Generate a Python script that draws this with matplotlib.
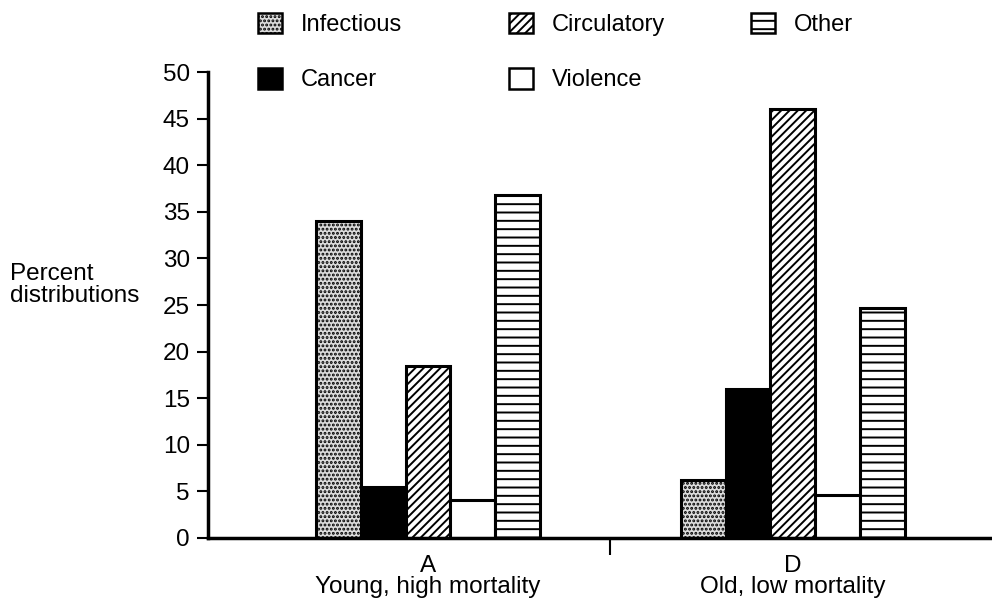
import matplotlib.pyplot as plt
from matplotlib.patches import Patch
import numpy as np

# Data
groups = ['A\nYoung, high mortality', 'D\nOld, low mortality']
causes = ['Infectious', 'Cancer', 'Circulatory', 'Violence', 'Other']
infectious = [34, 6.2]
cancer = [5.5, 16]
circulatory = [18.5, 46]
violence = [4.1, 4.6]
other = [36.8, 24.7]

series = [infectious, cancer, circulatory, violence, other]
faces = ['#dcdcdc', 'black', 'white', 'white', 'white']
hatches = ['....', None, '////', None, '--']

plt.rcParams['font.family'] = ['Liberation Sans', 'DejaVu Sans']
plt.rcParams['hatch.linewidth'] = 1.4

W, H = 992, 614
fig = plt.figure(figsize=(W / 100, H / 100), dpi=100)
ax = fig.add_axes([0.2097, 0.1238, 0.79, 0.7589])

x = np.arange(len(groups))
w = 0.123
for i, (vals, fc, h, name) in enumerate(zip(series, faces, hatches, causes)):
    ax.bar(x + (i - 2) * w, vals, width=w, color=fc, edgecolor='black',
           hatch=h, linewidth=2.2, label=name)

ax.set_xlim(-0.603, 1.545)
ax.set_ylim(0, 50)
ax.set_yticks(range(0, 51, 5))
ax.tick_params(axis='y', direction='out', length=8, width=1.5, labelsize=17.5, pad=5)

ax.set_xticks(x, groups)
ax.tick_params(axis='x', length=0, labelsize=17.5, pad=12)
for lbl in ax.get_xticklabels():
    lbl.set_linespacing(0.95)
ax.set_xticks([0.5], minor=True)
ax.tick_params(axis='x', which='minor', direction='out', length=12, width=1.5)

for s in ['top', 'right']:
    ax.spines[s].set_visible(False)
ax.spines['left'].set_linewidth(2.5)
ax.spines['bottom'].set_linewidth(2.5)

fig.text(0.01, 0.536, 'Percent\ndistributions', fontsize=17.5, ha='left', va='center',
         linespacing=1.0)

# Legend: three columns placed separately
handles = [Patch(facecolor=fc, edgecolor='black', hatch=h, linewidth=1.8)
           for fc, h in zip(faces, hatches)]
columns = [[0, 1], [2, 3], [4]]
col_x = [258, 509, 751]
for idx, cx in zip(columns, col_x):
    fig.legend([handles[k] for k in idx], [causes[k] for k in idx],
               loc='upper left', bbox_to_anchor=(cx / W, 1 - 13 / H),
               frameon=False, fontsize=17, handlelength=1.0, handleheight=0.95,
               labelspacing=1.35, handletextpad=0.8, borderpad=0, borderaxespad=0)

plt.savefig('out.png', dpi=100)
